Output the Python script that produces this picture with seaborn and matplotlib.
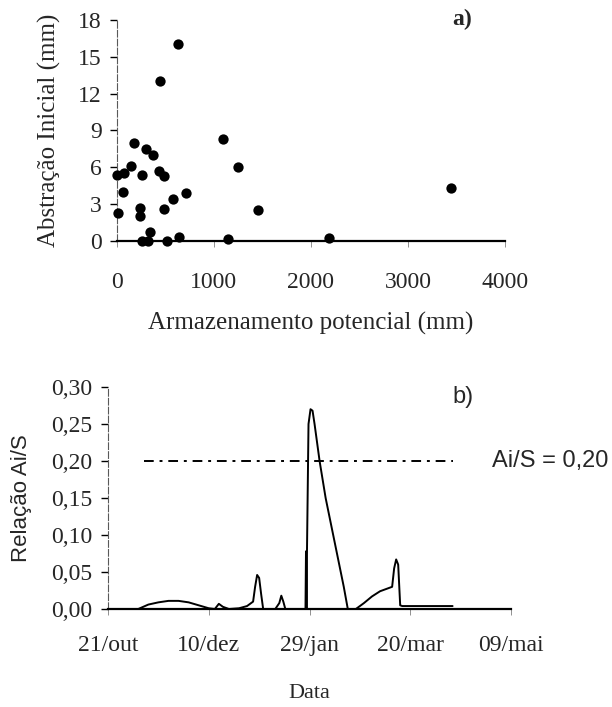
import pandas as pd
import seaborn as sns
import matplotlib.pyplot as plt

# panel a) potential storage vs initial abstraction
storage_mm = [10, 5, 70, 60, 175, 150, 255, 235, 235, 255, 320, 340, 295, 370,
              435, 485, 445, 630, 485, 575, 515, 640, 710, 1095, 1245, 1145,
              1455, 2185, 3445]
abstraction_mm = [2.3, 5.4, 5.5, 4.0, 8.0, 6.1, 5.4, 2.7, 2.0, 0.0, 0.0, 0.7, 7.5,
                  7.0, 5.7, 5.3, 13.0, 16.0, 2.6, 3.4, 0.0, 0.3, 3.9, 8.3, 6.0,
                  0.15, 2.5, 0.25, 4.3]

# panel b) Ai/S ratio over time
ratio_dates = ["2000-11-05 00:00", "2000-11-10 00:00", "2000-11-15 00:00", "2000-11-20 00:00",
               "2000-11-25 00:00", "2000-11-30 00:00", "2000-12-05 00:00", "2000-12-10 00:00",
               "2000-12-13 00:00", "2000-12-15 00:00", "2000-12-17 00:00", "2000-12-20 00:00",
               "2000-12-25 00:00", "2000-12-29 00:00", "2001-01-01 00:00", "2001-01-02 00:00",
               "2001-01-03 00:00", "2001-01-04 00:00", "2001-01-05 00:00", "2001-01-06 00:00",
               "2001-01-12 00:00", "2001-01-14 00:00", "2001-01-15 00:00", "2001-01-16 00:00",
               "2001-01-17 00:00", "2001-01-26 00:00", "2001-01-27 00:00", "2001-01-27 06:00",
               "2001-01-27 12:00", "2001-01-27 18:00", "2001-01-28 12:00", "2001-01-29 12:00",
               "2001-01-30 12:00", "2001-01-31 12:00", "2001-02-03 00:00", "2001-02-06 00:00",
               "2001-02-09 00:00", "2001-02-12 00:00", "2001-02-15 00:00", "2001-02-17 00:00",
               "2001-02-21 00:00", "2001-02-25 00:00", "2001-03-01 00:00", "2001-03-05 00:00",
               "2001-03-09 00:00", "2001-03-11 00:00", "2001-03-12 00:00", "2001-03-13 00:00",
               "2001-03-14 00:00", "2001-03-15 00:00", "2001-03-16 00:00", "2001-04-10 00:00"]
ratio_vals = [0.000, 0.006, 0.009, 0.011,
              0.011, 0.009, 0.005, 0.001,
              0.000, 0.007, 0.003, 0.000,
              0.001, 0.004, 0.010, 0.030,
              0.046, 0.042, 0.020, 0.000,
              0.000, 0.008, 0.018, 0.010,
              0.000, 0.000, 0.000, 0.078,
              0.000, 0.080, 0.250, 0.270,
              0.268, 0.250, 0.200, 0.150,
              0.110, 0.070, 0.030, 0.000,
              0.000, 0.008, 0.017, 0.024,
              0.028, 0.030, 0.055, 0.067,
              0.060, 0.005, 0.004, 0.004]
ref_dates = ["2000-11-08", "2001-04-10"]
ref_ratio = 0.20
date_ticks = ["2000-10-21", "2000-12-10", "2001-01-29", "2001-03-20", "2001-05-09"]
date_labels = ["21/out", "10/dez", "29/jan", "20/mar", "09/mai"]

sns.set_theme(style="white")
plt.rcParams["font.family"] = ["Liberation Serif", "DejaVu Serif"]
SANS = ["Liberation Sans", "DejaVu Sans"]

fig = plt.figure(figsize=(6.12, 7.07), dpi=100)

# ---- panel a
ax1 = fig.add_axes([0.191, 0.659, 0.634, 0.313])
sns.scatterplot(x=storage_mm, y=abstraction_mm, ax=ax1, color="black", s=55,
                edgecolor="black", linewidth=0, clip_on=False, zorder=3)
ax1.set_xlim(0, 4000)
ax1.set_ylim(0, 18)
ax1.set_xticks([0, 1000, 2000, 3000, 4000])
ax1.set_yticks([0, 3, 6, 9, 12, 15, 18])
ax1.set_xlabel("Armazenamento potencial (mm)", fontsize=18, labelpad=14)
ax1.set_ylabel("Abstração Inicial (mm)", fontsize=18, labelpad=12)
ax1.text(0.89, 1.0, "a)", transform=ax1.transAxes, fontsize=17,
         fontweight="bold", ha="center", va="center")

# ---- panel b
df = pd.DataFrame({"Data": pd.to_datetime(ratio_dates), "ratio": ratio_vals})
ax2 = fig.add_axes([0.1765, 0.1386, 0.6585, 0.314])
sns.lineplot(data=df, x="Data", y="ratio", ax=ax2, color="black", lw=1.4,
             estimator=None, sort=False)
ax2.plot(pd.to_datetime(ref_dates), [ref_ratio, ref_ratio], color="black",
         lw=1.4, linestyle=(0, (5, 3, 1.5, 3)))
ax2.set_xlim(pd.Timestamp(date_ticks[0]), pd.Timestamp(date_ticks[-1]))
ax2.set_ylim(0, 0.30)
ax2.set_xticks(pd.to_datetime(date_ticks))
ax2.set_xticklabels(date_labels)
ax2.set_yticks([0, 0.05, 0.10, 0.15, 0.20, 0.25, 0.30])
ax2.set_yticklabels(["0,00", "0,05", "0,10", "0,15", "0,20", "0,25", "0,30"])
ax2.set_xlabel("Data", fontsize=16, labelpad=20)
ax2.set_ylabel("Relação Ai/S", fontsize=16, labelpad=14, family=SANS)
ax2.text(0.88, 0.955, "b)", transform=ax2.transAxes, fontsize=17,
         ha="center", va="center", family=SANS)
ax2.annotate("Ai/S = 0,20", xy=(492 / 612, 1 - 461 / 707), xycoords="figure fraction",
             fontsize=17, ha="left", va="center", family=SANS)

for ax in (ax1, ax2):
    sns.despine(ax=ax)
    ax.spines["left"].set_linewidth(0.8)
    ax.spines["left"].set_color("0.35")
    ax.spines["left"].set_linestyle((0, (6, 2)))
    ax.spines["bottom"].set_linewidth(1.6)
    ax.spines["bottom"].set_color("black")
    ax.tick_params(axis="y", which="major", left=True, length=5, width=1,
                   color="black", labelsize=17, pad=6)
    ax.tick_params(axis="x", which="major", bottom=True, length=4, width=0.6,
                   color="0.5", labelsize=17)
    ax.grid(False)

ax1.tick_params(axis="x", pad=18)
ax2.tick_params(axis="x", pad=15)

fig.savefig("out.png", dpi=100)
